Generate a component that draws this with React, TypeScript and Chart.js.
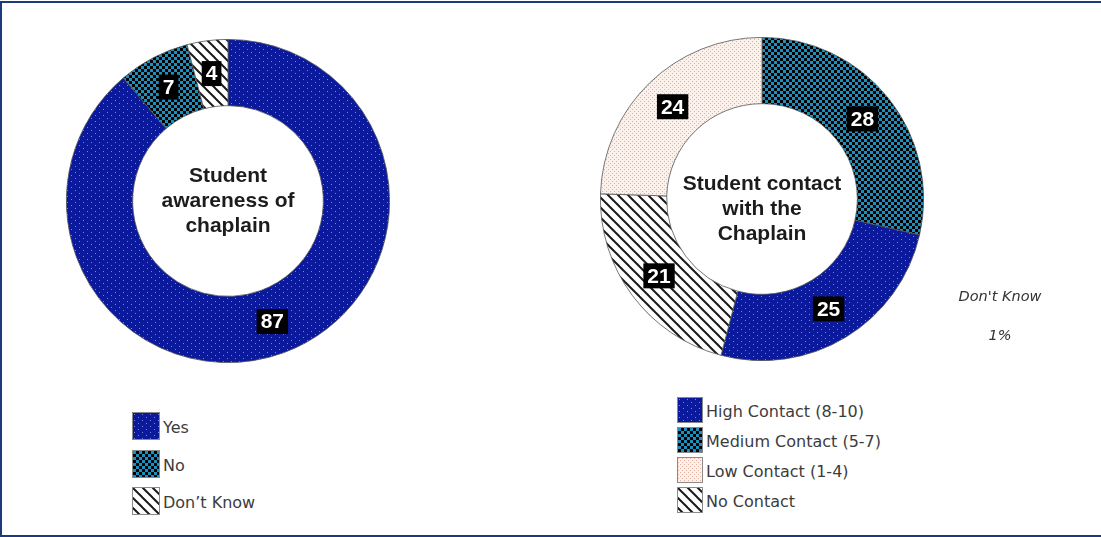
import React, { useEffect, useMemo, useRef } from "react";
import { Chart, registerables } from "chart.js";
Chart.register(...registerables);

// ---------- data ----------
const awarenessCategories = ["Yes", "No", "Don’t Know"];
const awarenessValues = [87, 7, 4];
const awarenessTitle = ["Student", "awareness of", "chaplain"];

const contactCategories = ["Medium Contact (5-7)", "High Contact (8-10)", "No Contact", "Low Contact (1-4)"];
const contactValues = [28, 25, 21, 24];
const contactLegendOrder = ["High Contact (8-10)", "Medium Contact (5-7)", "Low Contact (1-4)", "No Contact"];
const contactTitle = ["Student contact", "with the", "Chaplain"];
const contactDontKnowLabel = "Don't Know";
const contactDontKnowValue = "1%";

type Kind = "dots" | "checker" | "pink" | "stripes";
const awarenessKinds: Kind[] = ["dots", "checker", "stripes"];
const contactKindByCategory: Record<string, Kind> = {
  "High Contact (8-10)": "dots",
  "Medium Contact (5-7)": "checker",
  "Low Contact (1-4)": "pink",
  "No Contact": "stripes",
};

// ---------- patterns ----------
function makeTile(kind: Kind): HTMLCanvasElement {
  const c = document.createElement("canvas");
  const g = c.getContext("2d")!;
  if (kind === "dots") {
    c.width = 8; c.height = 6;
    g.fillStyle = "#0b1a9c"; g.fillRect(0, 0, 8, 6);
    g.fillStyle = "#7b86cc"; g.fillRect(1, 1, 1, 1); g.fillRect(5, 4, 1, 1);
  } else if (kind === "checker") {
    c.width = 6; c.height = 6;
    g.fillStyle = "#000"; g.fillRect(0, 0, 6, 6);
    g.fillStyle = "#1b8fbd"; g.fillRect(0, 0, 3, 3); g.fillRect(3, 3, 3, 3);
  } else if (kind === "pink") {
    c.width = 4; c.height = 4;
    g.fillStyle = "#fcf0eb"; g.fillRect(0, 0, 4, 4);
    g.fillStyle = "#e3b2a2"; g.fillRect(0, 0, 1, 1); g.fillRect(2, 2, 1, 1);
  } else {
    c.width = 10; c.height = 10;
    g.fillStyle = "#fff"; g.fillRect(0, 0, 10, 10);
    g.strokeStyle = "#1a1a1a"; g.lineWidth = 2;
    for (const off of [-10, 0, 10]) {
      g.beginPath(); g.moveTo(off - 1, -1); g.lineTo(off + 11, 11); g.stroke();
    }
  }
  return c;
}

const donutExtras = {
  id: "donutExtras",
  afterDatasetsDraw(chart: any, _args: any, opts: any) {
    const ctx = chart.ctx as CanvasRenderingContext2D;
    const meta = chart.getDatasetMeta(0);
    const data = chart.data.datasets[0].data as number[];
    ctx.save();
    ctx.textAlign = "center";
    ctx.textBaseline = "middle";
    ctx.font = "bold 21px 'Liberation Sans', Arial, sans-serif";
    meta.data.forEach((arc: any, i: number) => {
      const p = arc.tooltipPosition();
      const text = String(data[i]);
      const w = ctx.measureText(text).width + 8;
      const h = 25;
      ctx.fillStyle = "#000";
      ctx.fillRect(p.x - w / 2, p.y - h / 2, w, h);
      ctx.fillStyle = "#fff";
      ctx.fillText(text, p.x, p.y + 1);
    });
    const a0 = meta.data[0] as any;
    const cx = a0.x, cy = a0.y;
    const lines: string[] = opts.lines || [];
    const lh = 25;
    const off = opts.offset || 0;
    ctx.font = "bold 21px 'Liberation Sans', Arial, sans-serif";
    ctx.fillStyle = "#1c1c1c";
    lines.forEach((l, k) => ctx.fillText(l, cx, cy + off + (k - (lines.length - 1) / 2) * lh));
    ctx.restore();
  },
};

function Donut(props: { labels: string[]; values: number[]; kinds: Kind[]; tiles: Record<Kind, HTMLCanvasElement>; title: string[]; titleOffset: number; left: number; top: number }) {
  const ref = useRef<HTMLCanvasElement>(null);
  useEffect(() => {
    const canvas = ref.current!;
    const ctx = canvas.getContext("2d")!;
    const bg = props.kinds.map((k) => ctx.createPattern(props.tiles[k], "repeat")!);
    const chart = new Chart(canvas, {
      type: "doughnut",
      data: {
        labels: props.labels,
        datasets: [{ data: props.values, backgroundColor: bg as any, borderColor: "#555", borderWidth: 0.8 }],
      },
      options: {
        responsive: false,
        animation: false,
        cutout: "59%",
        layout: { padding: 0 },
        plugins: {
          legend: { display: false },
          tooltip: { enabled: false },
          donutExtras: { lines: props.title, offset: props.titleOffset },
        } as any,
      },
      plugins: [donutExtras],
    });
    return () => chart.destroy();
  }, []);
  return (
    <canvas ref={ref} width={324} height={324}
      style={{ position: "absolute", left: props.left, top: props.top, width: 324, height: 324 }} />
  );
}

function Legend(props: { items: string[]; kinds: Kind[]; urls: Record<Kind, string>; left: number; top: number; box: number; pitch: number }) {
  return (
    <div style={{ position: "absolute", left: props.left, top: props.top }}>
      {props.items.map((it, i) => (
        <div key={it} style={{ display: "flex", alignItems: "center", height: props.box, marginBottom: props.pitch - props.box }}>
          <div style={{
            width: props.box - 2, height: props.box - 2, border: "1px solid #8a8a8a",
            backgroundImage: `url(${props.urls[props.kinds[i]]})`, backgroundRepeat: "repeat",
          }} />
          <span style={{ marginLeft: 3, marginTop: 3, font: "16px 'DejaVu Sans', Verdana, sans-serif", color: "#3c3c3c", whiteSpace: "nowrap" }}>{it}</span>
        </div>
      ))}
    </div>
  );
}

export default function App() {
  const tiles = useMemo(() => ({
    dots: makeTile("dots"), checker: makeTile("checker"), pink: makeTile("pink"), stripes: makeTile("stripes"),
  }) as Record<Kind, HTMLCanvasElement>, []);
  const urls = useMemo(() => {
    const o: any = {};
    (Object.keys(tiles) as Kind[]).forEach((k) => (o[k] = tiles[k].toDataURL()));
    return o as Record<Kind, string>;
  }, [tiles]);

  return (
    <div style={{ position: "fixed", left: 0, top: 0, width: 1101, height: 537, background: "#fff", overflow: "hidden" }}>
      <div style={{ position: "absolute", left: 0, top: 1, width: 1110, height: 532, border: "2px solid #1d3a7c" }} />
      <Donut labels={awarenessCategories} values={awarenessValues} kinds={awarenessKinds} tiles={tiles}
        title={awarenessTitle} titleOffset={0} left={66} top={39} />
      <Donut labels={contactCategories} values={contactValues}
        kinds={contactCategories.map((c) => contactKindByCategory[c])} tiles={tiles}
        title={contactTitle} titleOffset={10} left={600} top={37} />
      <Legend items={awarenessCategories} kinds={awarenessKinds} urls={urls} left={132} top={412} box={28} pitch={37.5} />
      <Legend items={contactLegendOrder} kinds={contactLegendOrder.map((c) => contactKindByCategory[c])} urls={urls}
        left={677} top={397} box={26} pitch={30} />
      <div style={{ position: "absolute", left: 900, width: 200, top: 288, textAlign: "center", font: "italic 14.5px 'DejaVu Sans', Verdana, sans-serif", color: "#333" }}>{contactDontKnowLabel}</div>
      <div style={{ position: "absolute", left: 900, width: 200, top: 327, textAlign: "center", font: "italic 14.5px 'DejaVu Sans', Verdana, sans-serif", color: "#333" }}>{contactDontKnowValue}</div>
    </div>
  );
}
